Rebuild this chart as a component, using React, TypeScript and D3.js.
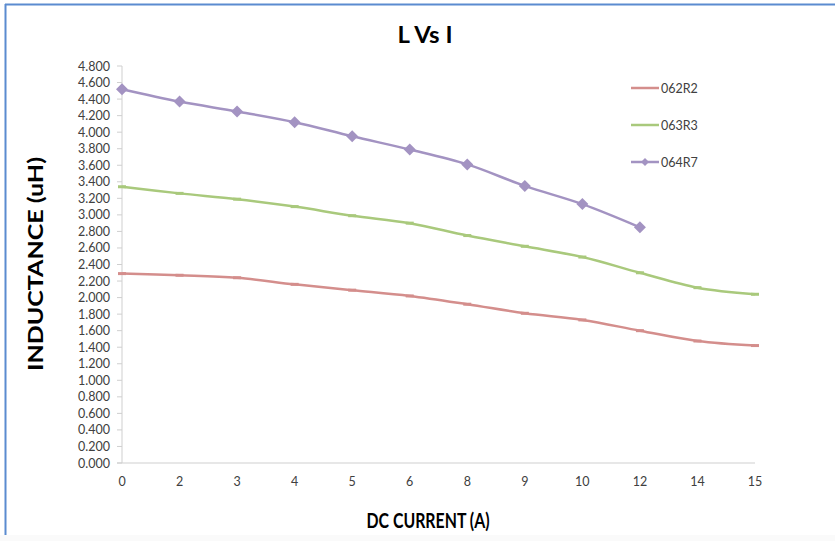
import React from "react";
import * as d3 from "d3";

const categories = ["0", "2", "3", "4", "5", "6", "8", "9", "10", "12", "14", "15"];
const s062R2 = [2.29, 2.27, 2.24, 2.16, 2.09, 2.02, 1.92, 1.81, 1.73, 1.6, 1.475, 1.42];
const s063R3 = [3.34, 3.26, 3.19, 3.1, 2.99, 2.9, 2.75, 2.62, 2.49, 2.3, 2.12, 2.04];
const s064R7 = [4.52, 4.37, 4.25, 4.12, 3.95, 3.79, 3.61, 3.35, 3.13, 2.85];
const yTicks = d3.range(0, 4.8001, 0.2);

const W = 835, H = 541;
const left = 122, right = 755, top = 66, bottom = 463;
const font = "Lato, 'Open Sans', sans-serif";

const series = [
  { name: "062R2", values: s062R2, color: "#d48e8c", marker: "dash" },
  { name: "063R3", values: s063R3, color: "#a9c97c", marker: "dash" },
  { name: "064R7", values: s064R7, color: "#a393c2", marker: "diamond" },
];

const diamondPath = (r: number) => `M0,${-r}L${r},0L0,${r}L${-r},0Z`;

export default function App() {
  const x = d3.scalePoint<string>().domain(categories).range([left, right]);
  const y = d3.scaleLinear().domain([0, 4.8]).range([bottom, top]);
  const line = d3
    .line<number>()
    .x((_, i) => x(categories[i]) as number)
    .y((d) => y(d))
    .curve(d3.curveCatmullRom.alpha(0.5));

  return (
    <svg width={W} height={H} style={{ position: "absolute", left: 0, top: 0, background: "#fff" }}>
      <rect x={0} y={0} width={W} height={H} fill="#fff" />
      <rect x={0} y={535} width={W} height={6} fill="#fafafa" />
      <line x1={5} x2={W} y1={4.5} y2={4.5} stroke="#5b8bd0" strokeWidth={2} />
      <line x1={5.5} x2={5.5} y1={4} y2={535} stroke="#5b8bd0" strokeWidth={2} />

      <text x={425} y={43} textAnchor="middle" fontFamily={font} fontWeight="bold" fontSize={23} fill="#000"
        textLength={55} lengthAdjust="spacingAndGlyphs">
        L Vs I
      </text>

      {/* y axis */}
      <line x1={left} x2={left} y1={top} y2={bottom} stroke="#cfcfcf" strokeWidth={1} />
      {yTicks.map((t) => (
        <g key={t.toFixed(1)}>
          <line x1={left - 5} x2={left} y1={y(t)} y2={y(t)} stroke="#cfcfcf" />
          <text x={110} y={y(t) + 4.5} textAnchor="end" fontFamily={font} fontSize={12.5} fill="#404040">
            {t.toFixed(3)}
          </text>
        </g>
      ))}
      {/* x axis */}
      <line x1={left - 5} x2={right} y1={bottom} y2={bottom} stroke="#cfcfcf" strokeWidth={1} />
      {categories.map((c) => (
        <text key={c} x={x(c)} y={486} textAnchor="middle" fontFamily={font} fontSize={12.5} fill="#404040">
          {c}
        </text>
      ))}

      <text x={428} y={528} textAnchor="middle" fontFamily={font} fontWeight="bold" fontSize={21} fill="#000"
        textLength={123} lengthAdjust="spacingAndGlyphs">
        DC CURRENT (A)
      </text>
      <text
        transform={`translate(43, ${264}) rotate(-90)`}
        textAnchor="middle"
        fontFamily={font}
        fontWeight="bold"
        fontSize={21}
        fill="#000"
        textLength={214}
        lengthAdjust="spacingAndGlyphs"
      >
        INDUCTANCE (uH)
      </text>

      {series.map((s) => (
        <g key={s.name}>
          <path d={line(s.values) as string} fill="none" stroke={s.color} strokeWidth={2.5} />
          {s.values.map((v, i) =>
            s.marker === "diamond" ? (
              <path key={i} d={diamondPath(6)} transform={`translate(${x(categories[i])},${y(v)})`} fill={s.color} />
            ) : (
              <rect key={i} x={(x(categories[i]) as number) - 4} y={y(v) - 1.5} width={8} height={3} fill={s.color} />
            )
          )}
        </g>
      ))}

      {/* legend */}
      {series.map((s, i) => {
        const ly = 88 + i * 37;
        return (
          <g key={s.name}>
            <line x1={631} x2={659} y1={ly} y2={ly} stroke={s.color} strokeWidth={2.5} />
            {s.marker === "diamond" && <path d={diamondPath(4)} transform={`translate(645,${ly})`} fill={s.color} />}
            <text x={661} y={ly + 4.5} fontFamily={font} fontSize={12.5} fill="#404040">
              {s.name}
            </text>
          </g>
        );
      })}
    </svg>
  );
}
